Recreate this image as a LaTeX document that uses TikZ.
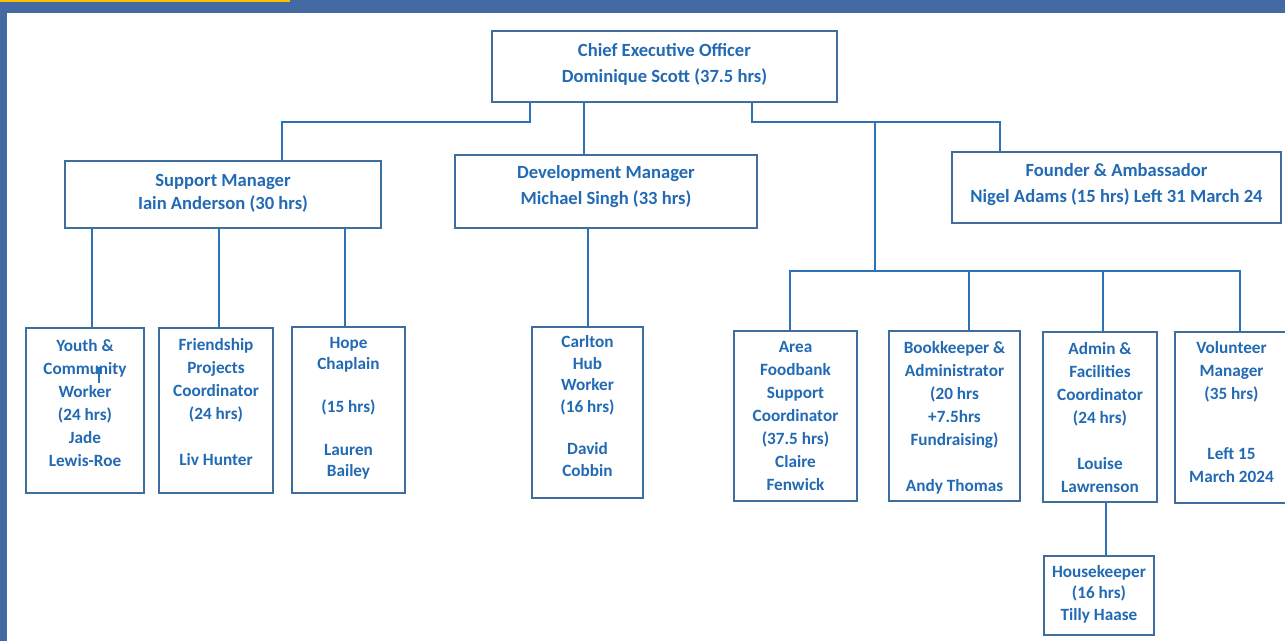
\documentclass[tikz,border=0pt]{standalone}
\usepackage{fontspec}
\setmainfont{Carlito}
\usetikzlibrary{positioning}

\definecolor{bandblue}{RGB}{68,106,164}
\definecolor{bandgold}{RGB}{255,192,0}
\definecolor{edgeblue}{RGB}{62,110,160}
\definecolor{lineblue}{RGB}{44,114,182}
\definecolor{inkblue}{RGB}{34,106,180}

\begin{document}
\begin{tikzpicture}[x=0.5pt,y=-0.5pt,
  card/.style={draw=edgeblue,line width=1pt,fill=white,inner sep=0pt},
  head/.style={inner sep=0pt,align=center,text=inkblue,font=\fontsize{9.3}{12.75}\selectfont\bfseries},
  post/.style={inner sep=0pt,align=center,text=inkblue,font=\fontsize{8.6}{11.5}\selectfont\bfseries},
  tight/.style={font=\fontsize{8.6}{10.7}\selectfont\bfseries},
  link/.style={draw=lineblue,line width=1.2pt}]
\useasboundingbox (0,0) rectangle (1285,641);
\clip (0,0) rectangle (1285,641);
\fill[white] (0,0) rectangle (1285,641);
\fill[bandblue] (0,0) rectangle (1285,13);
\fill[bandblue] (0,0) rectangle (7,641);
\fill[bandgold] (0,0) rectangle (290,2.5);

% top and managers
\node[card,minimum width=172.5pt,minimum height=35.5pt] (ceo) at (664.5,67) {};
\node[head,below=6.5pt of ceo.north] (ceotxt) {Chief Executive Officer\\Dominique Scott (37.5 hrs)};

\node[card,minimum width=158pt,minimum height=33.5pt] (sup) at (223,194.5) {};
\node[head,below=6.75pt of sup.north] (suptxt) {Support Manager\\[-1.25pt]Iain Anderson (30 hrs)};

\node[card,minimum width=151pt,minimum height=36.5pt] (dev) at (606,191.5) {};
\node[head,below=5.75pt of dev.north] (devtxt) {Development Manager\\Michael Singh (33 hrs)};

\node[card,minimum width=164.5pt,minimum height=35.5pt] (fnd) at (1116.5,187.5) {};
\node[head,below=6.25pt of fnd.north] (fndtxt) {Founder \& Ambassador\\Nigel Adams (15 hrs) Left 31 March 24};

% staff
\node[card,minimum width=59pt,minimum height=82.5pt] (youth) at (85,410.5) {};
\node[post,below=6pt of youth.north] (youthtxt) {Youth \&\\Community\\Worker\\(24 hrs)\\Jade\\Lewis-Roe};

\node[card,minimum width=57pt,minimum height=82.5pt] (friend) at (216,410.5) {};
\node[post,below=5.5pt of friend.north] (friendtxt) {Friendship\\Projects\\Coordinator\\(24 hrs)\\[11.5pt]Liv Hunter};

\node[card,minimum width=56.5pt,minimum height=83pt] (hope) at (348.5,410) {};
\node[post,tight,below=5.5pt of hope.north] (hopetxt) {Hope\\Chaplain\\[10.7pt](15 hrs)\\[10.7pt]Lauren\\Bailey};

\node[card,minimum width=55.5pt,minimum height=85.5pt] (carl) at (587.5,412.5) {};
\node[post,tight,below=4.75pt of carl.north] (carltxt) {Carlton\\Hub\\Worker\\(16 hrs)\\[10.7pt]David\\Cobbin};

\node[card,minimum width=61.5pt,minimum height=85pt] (area) at (795.5,416) {};
\node[post,below=5.25pt of area.north] (areatxt) {Area\\Foodbank\\Support\\Coordinator\\(37.5 hrs)\\Claire\\Fenwick};

\node[card,minimum width=65.5pt,minimum height=85pt] (book) at (954.5,416) {};
\node[post,below=5.5pt of book.north] (booktxt) {Bookkeeper \&\\Administrator\\(20 hrs\\+7.5hrs\\Fundraising)\\[11.5pt]Andy Thomas};

\node[card,minimum width=57pt,minimum height=85pt] (admin) at (1100,417) {};
\node[post,below=5.5pt of admin.north] (admintxt) {Admin \&\\Facilities\\Coordinator\\(24 hrs)\\[11.5pt]Louise\\Lawrenson};

\node[card,minimum width=62.5pt,minimum height=85.5pt] (vol) at (1237.5,417.5) {};
\node[post,below=5.25pt of vol.north,xshift=-3pt] (voltxt) {Volunteer\\Manager\\(35 hrs)\\[18.5pt]Left 15\\March 2024};

\node[card,minimum width=55pt,minimum height=39.5pt] (house) at (1099,595.5) {};
\node[post,tight,below=5pt of house.north] (housetxt) {Housekeeper\\(16 hrs)\\Tilly Haase};

% connectors
\coordinate (jl) at (282,122);
\coordinate (jr) at (1000,122);
\coordinate (jm) at (875,122);
\coordinate (ba) at (790,271);
\coordinate (bv) at (1240,271);
\draw[link] (ceo.south -| 530,0) |- (jl) -- (sup.north -| jl);
\draw[link] (ceo.south -| 584,0) -- (dev.north -| 584,0);
\draw[link] (ceo.south -| 752,0) |- (jr) -- (fnd.north -| jr);
\draw[link] (jm) -- (jm |- ba);
\draw[link] (area.north -| ba) -- (ba) -- (bv) -- (vol.north -| bv);
\draw[link] (book.north -| 969,0) -- (ba -| 969,0);
\draw[link] (admin.north -| 1103,0) -- (ba -| 1103,0);
\draw[link] (sup.south -| 92,0) -- (youth.north -| 92,0);
\draw[link] (sup.south -| 219,0) -- (friend.north -| 219,0);
\draw[link] (sup.south -| 345,0) -- (hope.north -| 345,0);
\draw[link] (dev.south -| 588,0) -- (carl.north -| 588,0);
\draw[link] (admin.south -| 1106,0) -- (house.north -| 1106,0);
\draw[lineblue,line width=0.6pt] (99,367) -- (99,383);
\end{tikzpicture}
\end{document}
